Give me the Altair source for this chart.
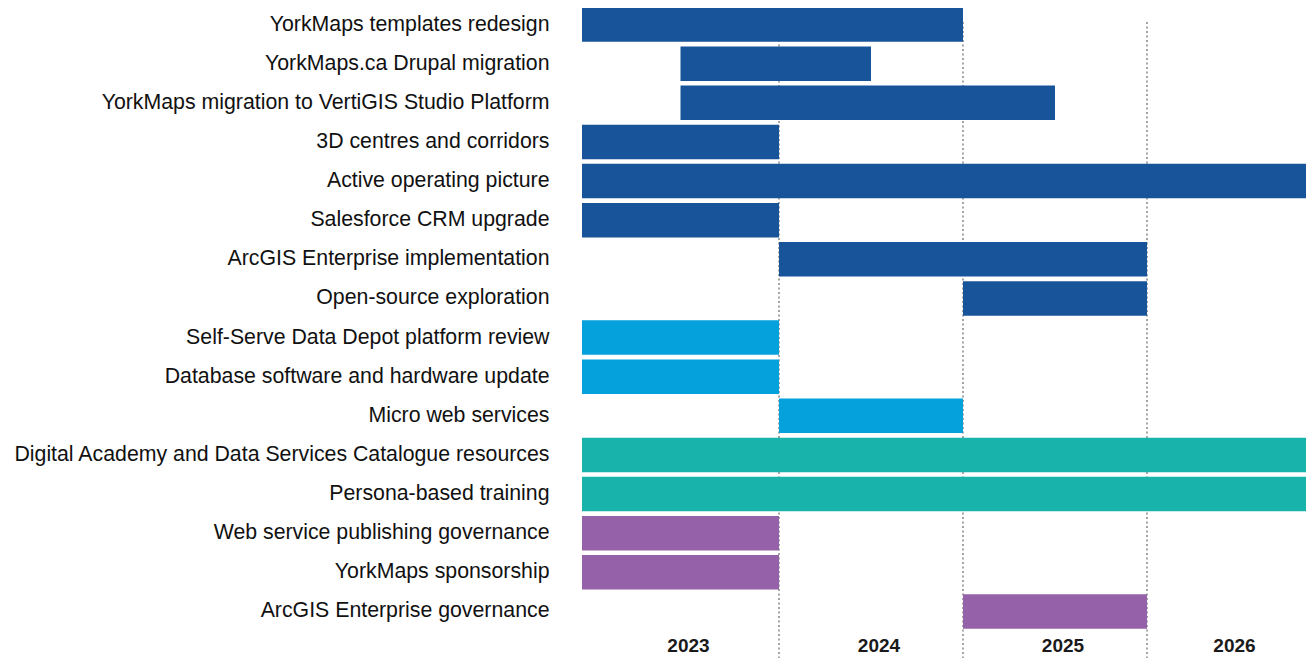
import altair as alt
import pandas as pd

tasks = [
    "YorkMaps templates redesign",
    "YorkMaps.ca Drupal migration",
    "YorkMaps migration to VertiGIS Studio Platform",
    "3D centres and corridors",
    "Active operating picture",
    "Salesforce CRM upgrade",
    "ArcGIS Enterprise implementation",
    "Open-source exploration",
    "Self-Serve Data Depot platform review",
    "Database software and hardware update",
    "Micro web services",
    "Digital Academy and Data Services Catalogue resources",
    "Persona-based training",
    "Web service publishing governance",
    "YorkMaps sponsorship",
    "ArcGIS Enterprise governance",
]
starts = [2023, 2023.5, 2023.5, 2023, 2023, 2023, 2024, 2025,
          2023, 2023, 2024, 2023, 2023, 2023, 2023, 2025]
ends = [2025, 2024.5, 2025.5, 2024, 2027, 2024, 2026, 2026,
        2024, 2024, 2025, 2027, 2027, 2024, 2024, 2026]
groups = ["A", "A", "A", "A", "A", "A", "A", "A",
          "B", "B", "B", "C", "C", "D", "D", "D"]
group_names = ["A", "B", "C", "D"]
group_colors = ["#17549A", "#05A1DC", "#18B4AC", "#9561A8"]

year_labels = ["2023", "2024", "2025", "2026"]
year_mids = [2023.5, 2024.5, 2025.5, 2026.5]
boundaries = [2024, 2025, 2026]

df = pd.DataFrame({"task": tasks, "start": starts, "end": ends, "group": groups})
years_df = pd.DataFrame({"label": year_labels, "mid": year_mids})
lines_df = pd.DataFrame({"b": boundaries})

xscale = alt.Scale(domain=[2023, 2024, 2025, 2026, 2027],
                   range=[0, 197, 381, 565, 724], nice=False, zero=False)

rules = alt.Chart(lines_df).mark_rule(
    color="#8f8f8f", strokeWidth=1.6, strokeDash=[2, 2.5]
).encode(
    x=alt.X("b:Q", scale=xscale, axis=None),
    y=alt.value(17),
    y2=alt.value(653),
)

bars = alt.Chart(df).mark_bar(cornerRadius=0).encode(
    x=alt.X("start:Q", scale=xscale, axis=None),
    x2="end:Q",
    y=alt.Y("task:N", sort=tasks, title=None,
            scale=alt.Scale(paddingInner=0.12, paddingOuter=0.06),
            axis=alt.Axis(domain=False, ticks=False, labelPadding=33,
                          labelFont="Liberation Sans", labelFontSize=21.3,
                          labelColor="#111111", labelLimit=1000)),
    color=alt.Color("group:N", scale=alt.Scale(domain=group_names, range=group_colors),
                    legend=None),
)

text = alt.Chart(years_df).mark_text(
    font="Liberation Sans", fontWeight="bold", fontSize=19,
    color="#1a1a1a", baseline="alphabetic", align="center", dx=8
).encode(
    x=alt.X("mid:Q", scale=xscale, axis=None),
    y=alt.value(647),
    text="label:N",
)

chart = alt.layer(rules, bars, text).properties(
    width=724, height=626,
    padding={"left": 574, "top": -3, "right": 0, "bottom": 27},
    autosize=alt.AutoSizeParams(type="none"),
).configure_view(stroke=None)

chart.save("out.html", embed_options={"renderer": "svg", "actions": False})
